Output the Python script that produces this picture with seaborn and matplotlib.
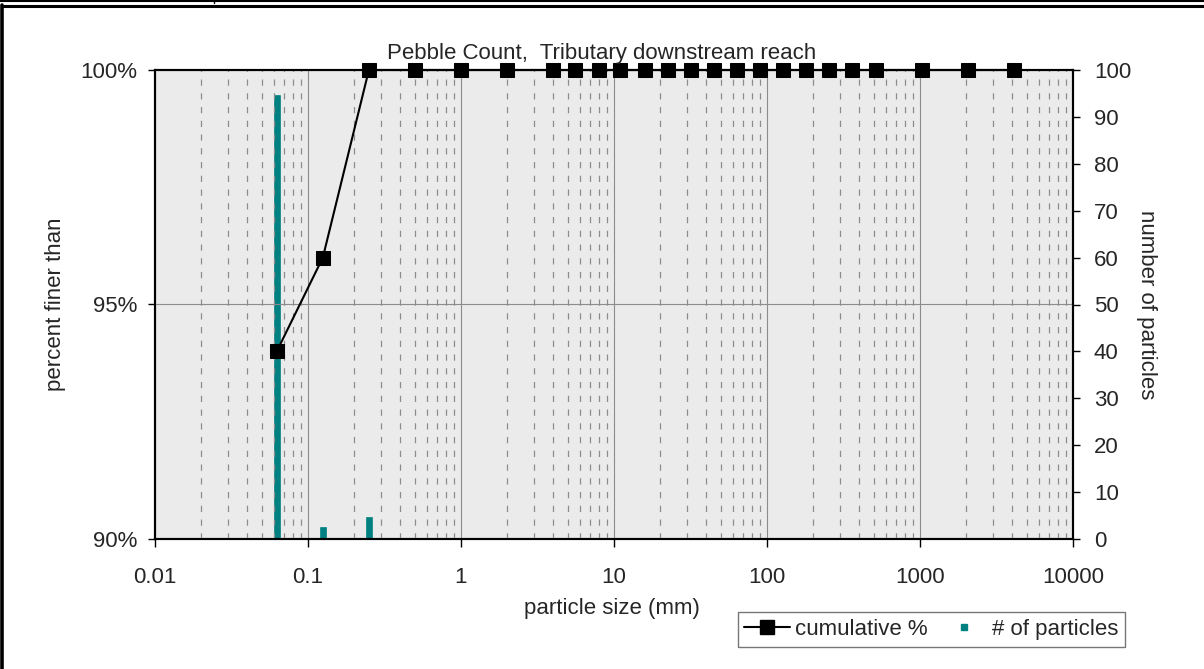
import matplotlib
matplotlib.use("Agg")
import matplotlib.pyplot as plt
from matplotlib.lines import Line2D
from matplotlib.ticker import FixedLocator, FuncFormatter, LogLocator, NullFormatter
import seaborn as sns
import pandas as pd

# ---- data ----
sizes = [0.0625, 0.125, 0.25, 0.5, 1, 2, 4, 5.6, 8, 11, 16, 22.6, 32, 45, 64, 90,
         128, 180, 256, 362, 512, 1024, 2048, 4096]
cumulative = [94, 96, 100, 100, 100, 100, 100, 100, 100, 100, 100, 100, 100, 100,
              100, 100, 100, 100, 100, 100, 100, 100, 100, 100]
count_sizes = [0.0625, 0.125, 0.25]
counts = [94, 2, 4]
x_ticks = [0.01, 0.1, 1, 10, 100, 1000, 10000]
left_ticks = [90, 95, 100]
right_ticks = list(range(0, 101, 10))

title = "Pebble Count,  Tributary downstream reach"

sns.set_style("white")
plt.rcParams['font.family'] = ['Liberation Sans', 'DejaVu Sans']
FS = 16

W, H = 1204, 669
fig = plt.figure(figsize=(W / 100, H / 100), dpi=100)
L, R, T, B = 155, 1073, 70, 539
ax = fig.add_axes([L / W, (H - B) / H, (R - L) / W, (B - T) / H])
ax2 = ax.twinx()

# ax (left, percent) drawn above ax2 (right, counts)
ax.set_zorder(2)
ax.patch.set_visible(False)
ax2.patch.set_visible(True)
ax2.set_facecolor('#EBEBEB')

ax.set_xscale('log')
ax.set_xlim(0.01, 10000)
ax.set_ylim(90, 100)
ax2.set_ylim(0, 100)

# bars (# of particles)
ax2.vlines(count_sizes, 0, counts, colors='#008080', linewidth=4.8,
           capstyle='projecting', zorder=2)

# cumulative line
df = pd.DataFrame({'size': sizes, 'cum': cumulative})
sns.lineplot(data=df, x='size', y='cum', ax=ax, color='black', linewidth=1.5,
             marker='s', markersize=10, markeredgecolor='black',
             markerfacecolor='black', clip_on=False, zorder=5, legend=False)

# grid
ax.xaxis.set_major_locator(FixedLocator(x_ticks))
ax.xaxis.set_minor_locator(LogLocator(base=10, subs=range(2, 10), numticks=20))
ax.xaxis.set_minor_formatter(NullFormatter())
ax.xaxis.set_major_formatter(FuncFormatter(lambda v, p: f"{v:g}"))
ax.grid(which='major', axis='x', color='#8C8C8C', linewidth=0.8, linestyle='-')
ax.grid(which='minor', axis='x', color='#8C8C8C', linewidth=0.9, linestyle=(0, (5, 6)))
ax.yaxis.set_major_locator(FixedLocator(left_ticks))
ax.yaxis.set_major_formatter(FuncFormatter(lambda v, p: f"{v:.0f}%"))
ax.grid(which='major', axis='y', color='#8C8C8C', linewidth=0.8)
ax2.yaxis.set_major_locator(FixedLocator(right_ticks))
ax2.grid(False)

for a in (ax, ax2):
    for s in a.spines.values():
        s.set_color('black')
        s.set_linewidth(1.5)
        s.set_visible(True)

ax.tick_params(axis='x', which='major', direction='out', length=6, width=1,
               color='black', labelsize=FS, pad=14, bottom=True)
ax.tick_params(axis='x', which='minor', length=0)
ax.tick_params(axis='y', direction='out', length=5, width=1, color='black',
               labelsize=FS, pad=8, left=True)
ax2.tick_params(axis='y', direction='out', length=5, width=1, color='black',
                labelsize=FS, pad=10, right=True)

ax.set_xlabel("particle size (mm)", fontsize=FS)
ax.xaxis.set_label_coords((612 - L) / (R - L), (B - 598) / (B - T))
ax.set_ylabel("percent finer than", fontsize=FS)
ax.yaxis.set_label_coords((66 - L) / (R - L), 0.5)
ax2.set_ylabel("number of particles", fontsize=FS, rotation=270, va='center')
ax2.yaxis.set_label_coords((1147 - L) / (R - L), 0.5)

fig.text(602 / W, 1 - 53 / H, title, ha='center', va='center', fontsize=FS)

# legend
handles = [Line2D([], [], color='black', linewidth=1.5, marker='s', markersize=10),
           Line2D([], [], color='none', marker='s', markersize=4,
                  markerfacecolor='#008080', markeredgecolor='#008080')]
leg = fig.legend(handles, ["cumulative %", "# of particles"], loc='center',
                 bbox_to_anchor=(931.5 / W, 1 - 629.5 / H), ncol=2, fontsize=FS,
                 frameon=True, fancybox=False, handlelength=2.07, handletextpad=0.23,
                 columnspacing=0.6, borderpad=0.3, borderaxespad=0)
leg.get_frame().set_edgecolor('#555555')
leg.get_frame().set_linewidth(1.0)

# outer frame lines
def hline(y, x0, x1, lw):
    fig.add_artist(Line2D([x0 / W, x1 / W], [1 - y / H, 1 - y / H],
                          transform=fig.transFigure, color='black', linewidth=lw))

def vline(x, y0, y1, lw):
    fig.add_artist(Line2D([x / W, x / W], [1 - y0 / H, 1 - y1 / H],
                          transform=fig.transFigure, color='black', linewidth=lw))

hline(0.8, 0, W, 1.5)
hline(6, 2, W, 2.2)
vline(1.5, 5, H, 2.6)
vline(214.5, 0, 3, 1.0)

fig.savefig("out.png", dpi=100)
